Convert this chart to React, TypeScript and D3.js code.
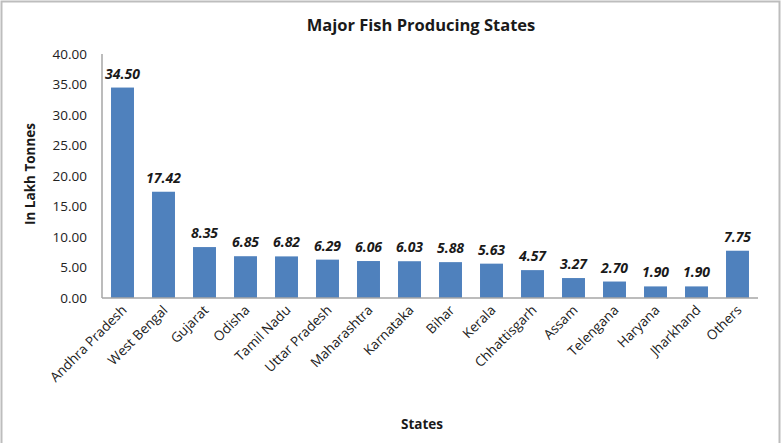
import React from "react";
import * as d3 from "d3";

const states = [
  "Andhra Pradesh", "West Bengal", "Gujarat", "Odisha", "Tamil Nadu", "Uttar Pradesh",
  "Maharashtra", "Karnataka", "Bihar", "Kerala", "Chhattisgarh", "Assam", "Telengana",
  "Haryana", "Jharkhand", "Others",
];
const production = [34.5, 17.42, 8.35, 6.85, 6.82, 6.29, 6.06, 6.03, 5.88, 5.63, 4.57, 3.27, 2.7, 1.9, 1.9, 7.75];
const yTicks = [0, 5, 10, 15, 20, 25, 30, 35, 40];

const W = 782, H = 443;
const M = { left: 102, right: 24, top: 54, bottom: 145 };
const FONT = "'Open Sans', 'Noto Sans', sans-serif";

export default function App() {
  const x = d3.scaleBand<string>().domain(states).range([M.left, W - M.right]).paddingInner(0.44).paddingOuter(0.22);
  const y = d3.scaleLinear().domain([0, 40]).range([H - M.bottom, M.top]);
  const y0 = y(0);
  return (
    <svg width={W} height={H} style={{ position: "absolute", left: 0, top: 0, background: "#fff" }}>
      <rect x={1.5} y={1.5} width={W - 4} height={H} fill="#fff" stroke="#bdbdbd" strokeWidth={2} />
      <text x={421} y={31} textAnchor="middle" fontFamily={FONT} fontWeight="bold" fontSize={16.5} fill="#1a1a1a">
        Major Fish Producing States
      </text>
      {yTicks.map((t) => (
        <text key={t} x={87} y={y(t)} dy="0.35em" textAnchor="end" fontFamily={FONT} fontSize={13.5} fill="#222">
          {t.toFixed(2)}
        </text>
      ))}
      <text transform={`translate(35,${(y(0) + y(40)) / 2 - 2}) rotate(-90)`} textAnchor="middle" fontFamily={FONT} fontWeight="bold" fontSize={13.5} fill="#1a1a1a">
        In Lakh Tonnes
      </text>
      {states.map((s, i) => (
        <g key={s}>
          <rect x={x(s)!} y={y(production[i])} width={x.bandwidth()} height={y0 - y(production[i])} fill="#4f81bd" />
          <text x={x(s)! + x.bandwidth() / 2} y={y(production[i]) - 9} textAnchor="middle" fontFamily={FONT} fontWeight="bold" fontStyle="italic" fontSize={14} fill="#1a1a1a">
            {production[i].toFixed(2)}
          </text>
          <text transform={`translate(${x(s)! + x.bandwidth() / 2 + 5},${y0 + 13}) rotate(-45)`} textAnchor="end" fontFamily={FONT} fontSize={13.5} fill="#222">
            {s}
          </text>
        </g>
      ))}
      <line x1={M.left} x2={M.left} y1={M.top} y2={y0} stroke="#a6a6a6" strokeWidth={1.5} />
      <line x1={M.left} x2={W - M.right} y1={y0} y2={y0} stroke="#a6a6a6" strokeWidth={1.5} />
      <text x={422} y={429} textAnchor="middle" fontFamily={FONT} fontWeight="bold" fontSize={13.5} fill="#1a1a1a">
        States
      </text>
    </svg>
  );
}
